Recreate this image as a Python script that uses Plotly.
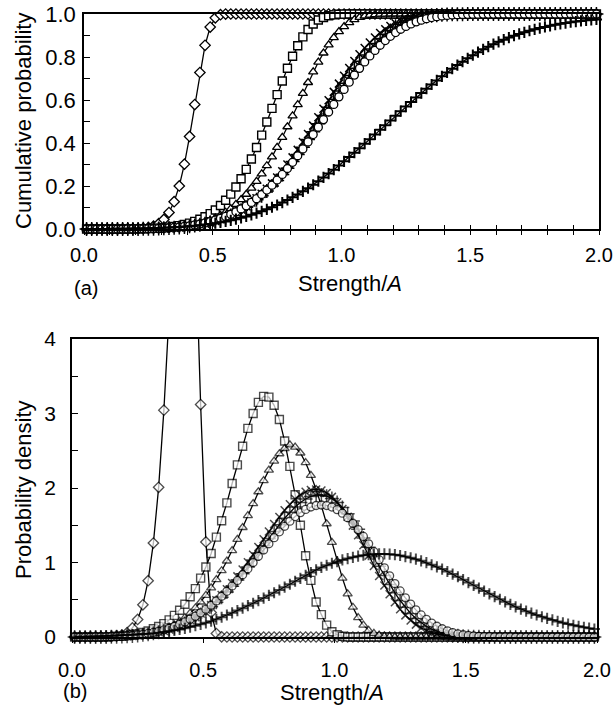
import plotly.graph_objects as go

# x positions of the plotted points (strength / A)
X = [0.01, 0.03, 0.05, 0.07, 0.09, 0.11, 0.13, 0.15, 0.17, 0.19,
     0.21, 0.23, 0.25, 0.27, 0.29, 0.31, 0.33, 0.35, 0.37, 0.39,
     0.41, 0.43, 0.45, 0.47, 0.49, 0.51, 0.53, 0.55, 0.57, 0.59,
     0.61, 0.63, 0.65, 0.67, 0.69, 0.71, 0.73, 0.75, 0.77, 0.79,
     0.81, 0.83, 0.85, 0.87, 0.89, 0.91, 0.93, 0.95, 0.97, 0.99,
     1.01, 1.03, 1.05, 1.07, 1.09, 1.11, 1.13, 1.15, 1.17, 1.19,
     1.21, 1.23, 1.25, 1.27, 1.29, 1.31, 1.33, 1.35, 1.37, 1.39,
     1.41, 1.43, 1.45, 1.47, 1.49, 1.51, 1.53, 1.55, 1.57, 1.59,
     1.61, 1.63, 1.65, 1.67, 1.69, 1.71, 1.73, 1.75, 1.77, 1.79,
     1.81, 1.83, 1.85, 1.87, 1.89, 1.91, 1.93, 1.95, 1.97, 1.99]

# ---------------- (a) cumulative probability ----------------
cum_diamond = [0, 0, 0, 0, 0, 0, 0, 0, 0.0002, 0.0006,
               0.0014, 0.0031, 0.0065, 0.013, 0.0247, 0.0445, 0.0767, 0.1268, 0.2003, 0.3017,
               0.4306, 0.5787, 0.7279, 0.8542, 0.9393, 0.982, 0.9966, 0.9996, 1.0, 1.0,
               1.0, 1.0, 1.0, 1.0, 1.0, 1.0, 1.0, 1.0, 1.0, 1.0,
               1.0, 1.0, 1.0, 1.0, 1.0, 1.0, 1.0, 1.0, 1.0, 1.0,
               1.0, 1.0, 1.0, 1.0, 1.0, 1.0, 1.0, 1.0, 1.0, 1.0,
               1.0, 1.0, 1.0, 1.0, 1.0, 1.0, 1.0, 1.0, 1.0, 1.0,
               1.0, 1.0, 1.0, 1.0, 1.0, 1.0, 1.0, 1.0, 1.0, 1.0,
               1.0, 1.0, 1.0, 1.0, 1.0, 1.0, 1.0, 1.0, 1.0, 1.0,
               1.0, 1.0, 1.0, 1.0, 1.0, 1.0, 1.0, 1.0, 1.0, 1.0]
cum_square = [0, 0, 0, 0, 0, 0, 0, 0.0001, 0.0002, 0.0004,
              0.0007, 0.0012, 0.0019, 0.0029, 0.0043, 0.0062, 0.0087, 0.0118, 0.0159, 0.0211,
              0.0275, 0.0355, 0.0452, 0.057, 0.0713, 0.0885, 0.109, 0.1334, 0.1622, 0.1956,
              0.234, 0.2774, 0.3258, 0.379, 0.4367, 0.4978, 0.5612, 0.6252, 0.6881, 0.748,
              0.8032, 0.8521, 0.8938, 0.9277, 0.9534, 0.9718, 0.984, 0.9916, 0.9961, 0.9985,
              0.9995, 0.9999, 1.0, 1.0, 1.0, 1.0, 1.0, 1.0, 1.0, 1.0,
              1.0, 1.0, 1.0, 1.0, 1.0, 1.0, 1.0, 1.0, 1.0, 1.0,
              1.0, 1.0, 1.0, 1.0, 1.0, 1.0, 1.0, 1.0, 1.0, 1.0,
              1.0, 1.0, 1.0, 1.0, 1.0, 1.0, 1.0, 1.0, 1.0, 1.0,
              1.0, 1.0, 1.0, 1.0, 1.0, 1.0, 1.0, 1.0, 1.0, 1.0]
cum_triangle = [0, 0, 0, 0, 0, 0, 0, 0, 0, 0,
                0.0001, 0.0003, 0.0005, 0.0009, 0.0015, 0.0024, 0.0036, 0.0052, 0.0074, 0.0102,
                0.014, 0.0188, 0.0247, 0.0319, 0.0407, 0.0511, 0.0635, 0.0781, 0.095, 0.1144,
                0.1366, 0.1617, 0.19, 0.2215, 0.2563, 0.2944, 0.3356, 0.3797, 0.4265, 0.4755,
                0.5263, 0.5783, 0.6305, 0.6815, 0.7305, 0.7764, 0.8186, 0.8566, 0.89, 0.9184,
                0.9417, 0.96, 0.974, 0.984, 0.9907, 0.995, 0.9975, 0.999, 0.9995, 0.9999,
                1.0, 1.0, 1.0, 1.0, 1.0, 1.0, 1.0, 1.0, 1.0, 1.0,
                1.0, 1.0, 1.0, 1.0, 1.0, 1.0, 1.0, 1.0, 1.0, 1.0,
                1.0, 1.0, 1.0, 1.0, 1.0, 1.0, 1.0, 1.0, 1.0, 1.0,
                1.0, 1.0, 1.0, 1.0, 1.0, 1.0, 1.0, 1.0, 1.0, 1.0]
cum_x = [0, 0, 0, 0, 0, 0, 0, 0, 0.0001, 0.0002,
         0.0004, 0.0007, 0.001, 0.0015, 0.0021, 0.003, 0.0041, 0.0056, 0.0074, 0.0097,
         0.0125, 0.0159, 0.02, 0.0249, 0.0307, 0.0376, 0.0455, 0.0547, 0.0653, 0.0773,
         0.091, 0.1064, 0.1236, 0.1426, 0.1637, 0.1869, 0.2121, 0.2394, 0.2687, 0.3,
         0.3332, 0.3681, 0.4044, 0.4419, 0.4807, 0.5199, 0.5594, 0.599, 0.6379, 0.6761,
         0.713, 0.7485, 0.7818, 0.8129, 0.8415, 0.8675, 0.8907, 0.9112, 0.9289, 0.944,
         0.9566, 0.967, 0.9754, 0.982, 0.9871, 0.9909, 0.9938, 0.9958, 0.9973, 0.9983,
         0.9989, 0.9994, 0.9996, 0.9998, 0.9999, 1.0, 1.0, 1.0, 1.0, 1.0,
         1.0, 1.0, 1.0, 1.0, 1.0, 1.0, 1.0, 1.0, 1.0, 1.0,
         1.0, 1.0, 1.0, 1.0, 1.0, 1.0, 1.0, 1.0, 1.0, 1.0]
cum_plus = [0, 0, 0, 0, 0, 0, 0, 0, 0.0002, 0.0003,
            0.0004, 0.0007, 0.0011, 0.0015, 0.0022, 0.0031, 0.0042, 0.0056, 0.0074, 0.0097,
            0.0124, 0.0157, 0.0197, 0.0244, 0.03, 0.0365, 0.0441, 0.0528, 0.0628, 0.0742,
            0.0871, 0.1016, 0.1176, 0.1355, 0.1552, 0.1767, 0.2004, 0.2258, 0.2531, 0.2825,
            0.3135, 0.3462, 0.3803, 0.4157, 0.4525, 0.4898, 0.5277, 0.5658, 0.6038, 0.6413,
            0.6781, 0.7136, 0.7475, 0.7797, 0.8098, 0.8376, 0.8629, 0.8858, 0.906, 0.9238,
            0.939, 0.952, 0.9628, 0.9716, 0.9788, 0.9844, 0.9888, 0.9921, 0.9945, 0.9963,
            0.9976, 0.9984, 0.999, 0.9994, 0.9996, 0.9998, 0.9999, 1.0, 1.0, 1.0,
            1.0, 1.0, 1.0, 1.0, 1.0, 1.0, 1.0, 1.0, 1.0, 1.0,
            1.0, 1.0, 1.0, 1.0, 1.0, 1.0, 1.0, 1.0, 1.0, 1.0]
cum_circle = [0, 0, 0, 0, 0, 0, 0, 0, 0.0002, 0.0004,
              0.0007, 0.001, 0.0015, 0.0021, 0.003, 0.0041, 0.0054, 0.0072, 0.0093, 0.0119,
              0.015, 0.0188, 0.0232, 0.0284, 0.0344, 0.0413, 0.0493, 0.0584, 0.0687, 0.0803,
              0.0933, 0.1077, 0.1237, 0.1412, 0.1604, 0.1812, 0.2037, 0.2279, 0.2538, 0.2813,
              0.3103, 0.3407, 0.3724, 0.4052, 0.4392, 0.4738, 0.5088, 0.5443, 0.5796, 0.6147,
              0.6493, 0.6831, 0.7157, 0.7471, 0.7769, 0.8048, 0.8307, 0.8547, 0.8765, 0.8962,
              0.9137, 0.9291, 0.9424, 0.9538, 0.9634, 0.9715, 0.9781, 0.9834, 0.9876, 0.9909,
              0.9934, 0.9954, 0.9968, 0.9978, 0.9985, 0.999, 0.9994, 0.9996, 0.9997, 0.9998,
              0.9999, 1.0, 1.0, 1.0, 1.0, 1.0, 1.0, 1.0, 1.0, 1.0,
              1.0, 1.0, 1.0, 1.0, 1.0, 1.0, 1.0, 1.0, 1.0, 1.0]
cum_wide = [0, 0.0001, 0.0001, 0.0002, 0.0004, 0.0006, 0.0008, 0.0011, 0.0015, 0.0019,
            0.0024, 0.0029, 0.0036, 0.0043, 0.0051, 0.006, 0.007, 0.0082, 0.0096, 0.0112,
            0.0131, 0.0152, 0.0177, 0.0204, 0.0236, 0.0271, 0.031, 0.0354, 0.0403, 0.0458,
            0.0518, 0.0585, 0.0657, 0.0736, 0.0821, 0.0913, 0.1011, 0.1116, 0.1229, 0.1348,
            0.1475, 0.161, 0.1752, 0.1901, 0.2059, 0.2224, 0.2397, 0.2576, 0.2761, 0.2951,
            0.3147, 0.3347, 0.355, 0.3757, 0.3967, 0.418, 0.4395, 0.4612, 0.4829, 0.5047,
            0.5264, 0.548, 0.5695, 0.5907, 0.6116, 0.6322, 0.6523, 0.672, 0.6912, 0.7099,
            0.728, 0.7454, 0.7623, 0.7784, 0.7938, 0.8084, 0.8223, 0.8355, 0.8479, 0.8596,
            0.8705, 0.8808, 0.8903, 0.8992, 0.9074, 0.915, 0.9221, 0.9286, 0.9346, 0.9401,
            0.9452, 0.9499, 0.9541, 0.958, 0.9616, 0.9648, 0.9677, 0.9704, 0.9728, 0.975]

# ---------------- (b) probability density ----------------
pdf_diamond = [0, 0, 0, 0, 0, 0.0003, 0.0013, 0.004, 0.0108, 0.0263,
               0.0586, 0.121, 0.236, 0.432, 0.756, 1.261, 2.009, 3.045, 4.348, 5.787,
               7.04, 7.62, 7.08, 5.376, 3.12, 1.276, 0.33, 0.047, 0.003, 0,
               0, 0, 0, 0, 0, 0, 0, 0, 0, 0,
               0, 0, 0, 0, 0, 0, 0, 0, 0, 0,
               0, 0, 0, 0, 0, 0, 0, 0, 0, 0,
               0, 0, 0, 0, 0, 0, 0, 0, 0, 0,
               0, 0, 0, 0, 0, 0, 0, 0, 0, 0,
               0, 0, 0, 0, 0, 0, 0, 0, 0, 0,
               0, 0, 0, 0, 0, 0, 0, 0, 0, 0]
pdf_square = [0, 0, 0, 0, 0, 0, 0, 0.005, 0.01, 0.01,
              0.02, 0.03, 0.04, 0.06, 0.08, 0.11, 0.14, 0.18, 0.23, 0.29,
              0.36, 0.44, 0.54, 0.65, 0.79, 0.94, 1.12, 1.34, 1.56, 1.80,
              2.06, 2.31, 2.56, 2.80, 3.00, 3.15, 3.23, 3.22, 3.11, 2.92,
              2.63, 2.29, 1.91, 1.50, 1.09, 0.76, 0.47, 0.30, 0.16, 0.07,
              0.03, 0.01, 0, 0, 0, 0, 0, 0, 0, 0,
              0, 0, 0, 0, 0, 0, 0, 0, 0, 0,
              0, 0, 0, 0, 0, 0, 0, 0, 0, 0,
              0, 0, 0, 0, 0, 0, 0, 0, 0, 0,
              0, 0, 0, 0, 0, 0, 0, 0, 0, 0]
pdf_triangle = [0, 0, 0, 0, 0, 0, 0, 0, 0, 0.003,
                0.005, 0.01, 0.015, 0.025, 0.035, 0.05, 0.07, 0.09, 0.12, 0.16,
                0.21, 0.26, 0.32, 0.39, 0.47, 0.56, 0.66, 0.77, 0.89, 1.02,
                1.16, 1.31, 1.47, 1.63, 1.79, 1.95, 2.10, 2.24, 2.36, 2.46,
                2.53, 2.58, 2.55, 2.47, 2.34, 2.17, 1.98, 1.76, 1.52, 1.27,
                1.02, 0.79, 0.58, 0.40, 0.26, 0.16, 0.09, 0.05, 0.025, 0.01,
                0.005, 0, 0, 0, 0, 0, 0, 0, 0, 0,
                0, 0, 0, 0, 0, 0, 0, 0, 0, 0,
                0, 0, 0, 0, 0, 0, 0, 0, 0, 0,
                0, 0, 0, 0, 0, 0, 0, 0, 0, 0]
pdf_x = [0, 0, 0, 0.0001, 0.0003, 0.0007, 0.0014, 0.0025, 0.0042, 0.0067,
         0.01, 0.0146, 0.0206, 0.0282, 0.0377, 0.0495, 0.064, 0.0813, 0.1019, 0.1262,
         0.1545, 0.1871, 0.2246, 0.2671, 0.3151, 0.3687, 0.4279, 0.4932, 0.5646, 0.642,
         0.7249, 0.8138, 0.907, 1.0044, 1.1052, 1.2084, 1.3123, 1.4151, 1.5156, 1.6119,
         1.7016, 1.7822, 1.8518, 1.9083, 1.9497, 1.9741, 1.9803, 1.967, 1.934, 1.881,
         1.809, 1.719, 1.6134, 1.4949, 1.3663, 1.2306, 1.0919, 0.9535, 0.8192, 0.6919,
         0.5739, 0.4668, 0.3717, 0.2901, 0.2223, 0.1659, 0.1208, 0.086, 0.0596, 0.0402,
         0.0263, 0.0168, 0.0103, 0.006, 0.0035, 0.002, 0.001, 0.0005, 0.0002, 0.0001,
         0, 0, 0, 0, 0, 0, 0, 0, 0, 0,
         0, 0, 0, 0, 0, 0, 0, 0, 0, 0]
pdf_plus = [0, 0, 0, 0.0001, 0.0003, 0.0008, 0.0015, 0.0027, 0.0045, 0.007,
            0.0105, 0.0151, 0.0211, 0.0287, 0.038, 0.0496, 0.0636, 0.0804, 0.1003, 0.1235,
            0.1505, 0.1814, 0.2168, 0.2567, 0.3016, 0.3516, 0.4066, 0.4674, 0.5335, 0.605,
            0.6815, 0.7636, 0.8491, 0.9394, 1.0321, 1.1277, 1.2246, 1.3208, 1.4157, 1.5072,
            1.5938, 1.6735, 1.7446, 1.8046, 1.8526, 1.8866, 1.9047, 1.9068, 1.8909, 1.8575,
            1.8063, 1.7385, 1.655, 1.5574, 1.4478, 1.3296, 1.2053, 1.0773, 0.9498, 0.8242,
            0.705, 0.5924, 0.4896, 0.3983, 0.3165, 0.2477, 0.1897, 0.1422, 0.1045, 0.0747,
            0.0522, 0.0356, 0.0237, 0.0153, 0.0097, 0.006, 0.0036, 0.002, 0.001, 0.0005,
            0, 0, 0, 0, 0, 0, 0, 0, 0, 0,
            0, 0, 0, 0, 0, 0, 0, 0, 0, 0]
pdf_circle = [0, 0, 0.0001, 0.0002, 0.0006, 0.0013, 0.0025, 0.0042, 0.0067, 0.01,
              0.0146, 0.0204, 0.0278, 0.0369, 0.0482, 0.0615, 0.0773, 0.096, 0.1177, 0.1425,
              0.171, 0.203, 0.239, 0.2794, 0.324, 0.373, 0.4264, 0.4846, 0.5468, 0.6136,
              0.6843, 0.7589, 0.8364, 0.9169, 0.9997, 1.0835, 1.168, 1.2517, 1.3332, 1.4123,
              1.4867, 1.5553, 1.6168, 1.6696, 1.7127, 1.7448, 1.7648, 1.7716, 1.7649, 1.7443,
              1.710, 1.6618, 1.6007, 1.5271, 1.4425, 1.3501, 1.2506, 1.1456, 1.0377, 0.9288,
              0.8211, 0.7167, 0.618, 0.5258, 0.4412, 0.3637, 0.2957, 0.2368, 0.1868, 0.1446,
              0.1106, 0.0821, 0.06, 0.043, 0.0304, 0.0209, 0.0141, 0.0093, 0.006, 0.0038,
              0.0024, 0.0015, 0.0009, 0.0005, 0.0003, 0.0002, 0.0001, 0, 0, 0,
              0, 0, 0, 0, 0, 0, 0, 0, 0, 0]
pdf_wide = [0.002, 0.003, 0.004, 0.006, 0.008, 0.011, 0.014, 0.017, 0.020, 0.023,
            0.027, 0.031, 0.035, 0.039, 0.043, 0.049, 0.057, 0.066, 0.076, 0.089,
            0.102, 0.117, 0.133, 0.151, 0.170, 0.190, 0.213, 0.238, 0.265, 0.295,
            0.325, 0.355, 0.387, 0.420, 0.453, 0.487, 0.522, 0.558, 0.594, 0.631,
            0.669, 0.708, 0.748, 0.788, 0.828, 0.866, 0.901, 0.934, 0.963, 0.990,
            1.013, 1.034, 1.053, 1.070, 1.085, 1.097, 1.106, 1.112, 1.115, 1.115,
            1.112, 1.105, 1.094, 1.080, 1.064, 1.045, 1.022, 0.997, 0.970, 0.942,
            0.912, 0.879, 0.845, 0.809, 0.770, 0.731, 0.693, 0.655, 0.617, 0.580,
            0.543, 0.507, 0.472, 0.438, 0.405, 0.375, 0.347, 0.320, 0.295, 0.272,
            0.250, 0.229, 0.209, 0.190, 0.173, 0.157, 0.143, 0.130, 0.118, 0.107]

FONT = "Liberation Sans, Arial, Helvetica, sans-serif"
BLACK = "#000000"

# marker styles per series (symbol, size, fill, outline width)
STYLES = [
    ("diamond", 8, "white", 1.3),
    ("square", 8, "white", 1.4),
    ("triangle-up", 8, "white", 1.3),
    ("x-thin", 8, BLACK, 1.5),
    ("cross-thin", 10, BLACK, 1.5),
    ("circle", 8, "white", 1.3),
    ("cross-thin", 8, BLACK, 2.0),
]

cum_series = [cum_diamond, cum_square, cum_triangle, cum_x, cum_plus, cum_circle, cum_wide]
pdf_series = [pdf_diamond, pdf_square, pdf_triangle, pdf_x, pdf_plus, pdf_circle, pdf_wide]

fig = go.Figure()

for ys, (sym, size, fill, lw) in zip(cum_series, STYLES):
    fig.add_trace(go.Scatter(
        x=X, y=ys, xaxis="x", yaxis="y", mode="lines+markers",
        line=dict(color=BLACK, width=1.3),
        marker=dict(symbol=sym, size=size, color=fill, line=dict(color=BLACK, width=lw)),
        cliponaxis=False, showlegend=False, hoverinfo="skip"))

YMAX_B = 4
for ys, (sym, size, fill, lw) in zip(pdf_series, STYLES):
    sizes = [size if v <= YMAX_B else 0 for v in ys]
    fig.add_trace(go.Scatter(
        x=X, y=ys, xaxis="x2", yaxis="y2", mode="lines+markers",
        line=dict(color=BLACK, width=1.3),
        marker=dict(symbol=sym, size=sizes, color=fill, line=dict(color=BLACK, width=lw)),
        cliponaxis=False, showlegend=False, hoverinfo="skip"))

# invisible trace so the overlay axis (inner half of crossing ticks) is drawn
fig.add_trace(go.Scatter(x=[None], y=[None], xaxis="x3", yaxis="y",
                         showlegend=False, hoverinfo="skip"))

W, H = 613, 705
def px_x(a):
    return a / W
def px_y(b):
    return 1 - b / H

axis_common = dict(showline=True, linecolor=BLACK, linewidth=1.5, mirror=True,
                   showgrid=False, zeroline=False, tickcolor=BLACK, tickwidth=1.3,
                   automargin=False, ticklabeloverflow="allow",
                   tickfont=dict(family=FONT, size=20, color=BLACK))

fig.update_layout(
    width=W, height=H,
    margin=dict(l=0, r=0, t=0, b=0, autoexpand=False),
    paper_bgcolor="white", plot_bgcolor="white",
    xaxis=dict(axis_common, domain=[px_x(84), px_x(599)], anchor="y", range=[0, 2],
               dtick=0.5, tick0=0, tickformat=".1f", ticks="outside", ticklen=4,
               minor=dict(dtick=0.1, ticks="outside", ticklen=4, tickcolor=BLACK, tickwidth=1.3),
               ticklabelstandoff=3),
    xaxis3=dict(overlaying="x", anchor="y", range=[0, 2], showline=False, showgrid=False,
                zeroline=False, showticklabels=False, ticks="inside", ticklen=4,
                dtick=0.1, tick0=0, tickcolor=BLACK, tickwidth=1.3, automargin=False),
    yaxis=dict(axis_common, domain=[px_y(229), px_y(14)], anchor="x", range=[0, 1],
               dtick=0.2, tick0=0, tickformat=".1f", ticks="inside", ticklen=6,
               minor=dict(dtick=0.1, ticks="inside", ticklen=6, tickcolor=BLACK, tickwidth=1.3),
               tickfont=dict(family=FONT, size=22, color=BLACK), ticklabelstandoff=2),
    xaxis2=dict(axis_common, domain=[px_x(72), px_x(597)], anchor="y2", range=[0, 2],
                dtick=0.5, tick0=0, tickformat=".1f", ticks="outside", ticklen=4,
                ticklabelstandoff=10),
    yaxis2=dict(axis_common, domain=[px_y(637), px_y(339)], anchor="x2", range=[0, 4],
                dtick=1, tick0=0, tickformat="d", ticks="inside", ticklen=6,
                minor=dict(dtick=0.5, ticks="inside", ticklen=6, tickcolor=BLACK, tickwidth=1.3),
                tickfont=dict(family=FONT, size=21, color=BLACK), ticklabelstandoff=10),
)

ann_font = dict(family=FONT, size=22, color=BLACK)
annotations = [
    dict(text="Strength/<i>A</i>", x=px_x(350), y=px_y(283)),
    dict(text="Strength/<i>A</i>", x=px_x(332), y=px_y(692)),
    dict(text="(a)", x=px_x(86), y=px_y(288), font=dict(family=FONT, size=20, color=BLACK)),
    dict(text="(b)", x=px_x(75), y=px_y(691), font=dict(family=FONT, size=20, color=BLACK)),
    dict(text="Cumulative probability", x=px_x(23), y=px_y(121), textangle=-90),
    dict(text="Probability density", x=px_x(23), y=px_y(490), textangle=-90),
]
for a in annotations:
    a.setdefault("font", ann_font)
    fig.add_annotation(xref="paper", yref="paper", xanchor="center", yanchor="middle",
                       showarrow=False, **a)

# remove the page's default body margin so the figure sits at the window origin
fig.write_html("out.html",
               config={"displayModeBar": False},
               post_script="document.body.style.margin='0';document.body.style.overflow='hidden';")
